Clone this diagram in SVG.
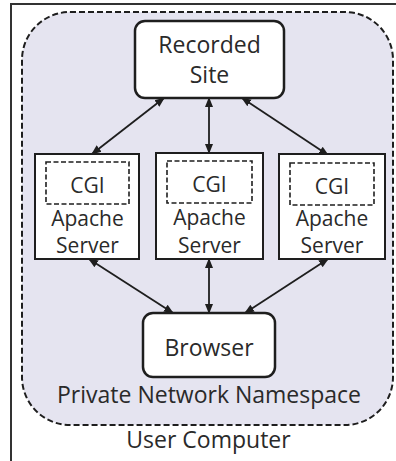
<svg xmlns="http://www.w3.org/2000/svg" width="396" height="461" viewBox="0 0 396 461">
<style>
text{font-family:"Open Sans","Noto Sans","Liberation Sans",sans-serif;fill:#2a2a2a;text-anchor:middle}
.big{font-size:23px}
.mid{font-size:21px}
.box{fill:#fff;stroke:#1e1e1e;stroke-width:2.5}
.srv{fill:#fff;stroke:#1e1e1e;stroke-width:2}
.cgi{fill:none;stroke:#1e1e1e;stroke-width:1.6;stroke-dasharray:5 2.5}
.conn{stroke:#1e1e1e;stroke-width:1.8;fill:none;marker-start:url(#ah);marker-end:url(#ah)}
</style>
<defs>
<marker id="ah" markerUnits="userSpaceOnUse" markerWidth="10" markerHeight="10" refX="9" refY="5" orient="auto-start-reverse" viewBox="0 0 10 10">
<path d="M0,1 L10,5 L0,9 Z" fill="#1e1e1e"/>
</marker>
</defs>
<rect width="396" height="461" fill="#fff"/>
<g id="user-computer">
<path d="M11,470 V4 H400" fill="none" stroke="#333" stroke-width="2"/>
<text class="big" x="208.5" y="448">User Computer</text>
</g>
<g id="namespace">
<rect x="22" y="12" width="371" height="413" rx="48" ry="48" fill="#e5e4f0" stroke="#1e1e1e" stroke-width="2" stroke-dasharray="6 3"/>
<text class="big" x="209" y="403">Private Network Namespace</text>
</g>
<g id="connectors">
<line class="conn" x1="164" y1="98" x2="92" y2="154"/>
<line class="conn" x1="209" y1="98" x2="209" y2="153"/>
<line class="conn" x1="242" y1="98" x2="328" y2="155"/>
<line class="conn" x1="89" y1="259" x2="173" y2="313"/>
<line class="conn" x1="209" y1="259" x2="209" y2="313"/>
<line class="conn" x1="328" y1="259" x2="245" y2="313"/>
</g>
<g id="recorded-site">
<rect class="box" x="135" y="21" width="149" height="77" rx="10"/>
<text class="big" x="209.5" y="53">Recorded</text>
<text class="big" x="209.5" y="83">Site</text>
</g>
<g id="server-left">
<rect class="srv" x="35" y="154" width="104" height="105"/>
<rect class="cgi" x="46" y="162" width="83" height="42"/>
<text class="mid" x="87.5" y="193">CGI</text>
<text class="mid" x="87.5" y="226">Apache</text>
<text class="mid" x="87.5" y="253">Server</text>
</g>
<g id="server-middle">
<rect class="srv" x="156" y="153" width="107" height="106"/>
<rect class="cgi" x="167" y="161" width="85" height="42"/>
<text class="mid" x="209.5" y="192">CGI</text>
<text class="mid" x="209.5" y="225">Apache</text>
<text class="mid" x="209.5" y="253">Server</text>
</g>
<g id="server-right">
<rect class="srv" x="279" y="154" width="106" height="105"/>
<rect class="cgi" x="290" y="163" width="84" height="42"/>
<text class="mid" x="332" y="194">CGI</text>
<text class="mid" x="332" y="226">Apache</text>
<text class="mid" x="332" y="253">Server</text>
</g>
<g id="browser">
<rect class="box" x="143" y="313" width="132" height="64" rx="10"/>
<text class="big" x="209" y="356">Browser</text>
</g>
</svg>
